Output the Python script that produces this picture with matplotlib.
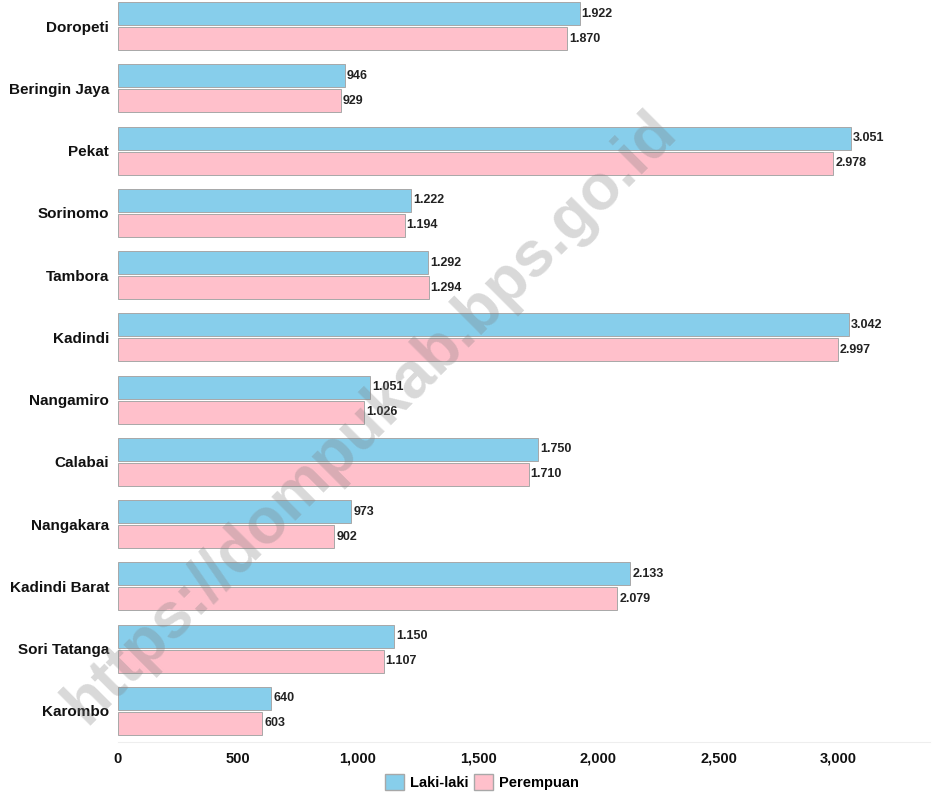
import numpy as np
import matplotlib.pyplot as plt
from matplotlib.patches import Patch

desa = ['Doropeti', 'Beringin Jaya', 'Pekat', 'Sorinomo', 'Tambora', 'Kadindi',
        'Nangamiro', 'Calabai', 'Nangakara', 'Kadindi Barat', 'Sori Tatanga', 'Karombo']
laki = [1922, 946, 3051, 1222, 1292, 3042, 1051, 1750, 973, 2133, 1150, 640]
perempuan = [1870, 929, 2978, 1194, 1294, 2997, 1026, 1710, 902, 2079, 1107, 603]
x_ticks = [0, 500, 1000, 1500, 2000, 2500, 3000]

c_laki = '#87CEEB'
c_per = '#FFC0CB'

plt.rcParams['font.family'] = ['Liberation Sans', 'DejaVu Sans']

fig = plt.figure(figsize=(9.35, 7.95), dpi=100)
ax = fig.add_axes([117.5 / 935, 1 - 742 / 795, 812.5 / 935, 742 / 795])

y = np.arange(len(desa))
h = 0.37
off = 0.2
ax.barh(y - off, laki, height=h, color=c_laki, edgecolor='#a8a8a8', linewidth=0.7)
ax.barh(y + off, perempuan, height=h, color=c_per, edgecolor='#a8a8a8', linewidth=0.7)

def fmt(v):
    return '{:,}'.format(v).replace(',', '.')

for i in range(len(desa)):
    ax.text(laki[i] + 8, y[i] - off, fmt(laki[i]), va='center', ha='left',
            fontsize=9, fontweight='bold', color='#222222')
    ax.text(perempuan[i] + 8, y[i] + off, fmt(perempuan[i]), va='center', ha='left',
            fontsize=9, fontweight='bold', color='#222222')

ax.set_ylim(11.5, -0.42)
ax.set_xlim(0, 3380)
ax.set_yticks(y)
ax.set_yticklabels(desa, fontsize=11, fontweight='bold', color='#111111')
ax.set_xticks(x_ticks)
ax.set_xticklabels(['{:,}'.format(t) for t in x_ticks], fontsize=10.5,
                   fontweight='bold', color='#111111')
ax.tick_params(axis='both', length=0)
ax.tick_params(axis='x', pad=7)
ax.tick_params(axis='y', pad=6)
for s in ['top', 'right', 'left']:
    ax.spines[s].set_visible(False)
ax.spines['bottom'].set_color('#eeeeee')

handles = [Patch(facecolor=c_laki, edgecolor='#a8a8a8', label='Laki-laki'),
           Patch(facecolor=c_per, edgecolor='#a8a8a8', label='Perempuan')]
fig.legend(handles=handles, loc='center', bbox_to_anchor=(482 / 935, 1 - 782 / 795),
           ncol=2, frameon=False, handlelength=1.3, handleheight=1.3,
           columnspacing=0.4, handletextpad=0.4,
           prop={'weight': 'bold', 'size': 10.5})

# watermark
fig.text(370 / 935, 1 - 418 / 795, 'https://dompukab.bps.go.id', rotation=45,
         ha='center', va='center', fontsize=46, fontweight='bold',
         color='#808080', alpha=0.3)

plt.savefig('out.png', dpi=100)
